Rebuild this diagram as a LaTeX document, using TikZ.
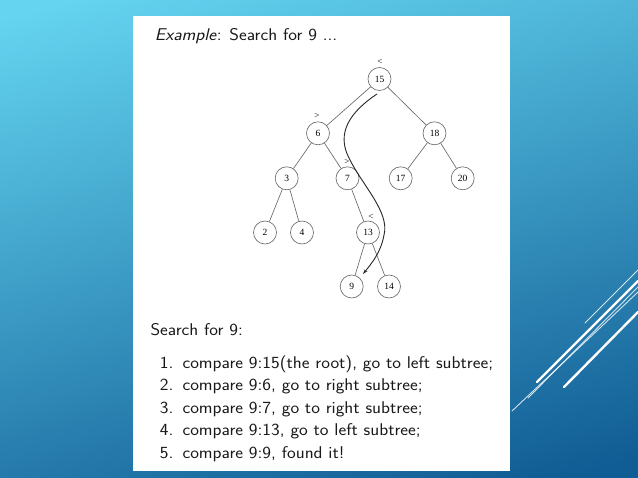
\documentclass[tikz,border=0pt]{standalone}
\usepackage{fontspec}
\newfontfamily\treefont{Liberation Serif}
\usetikzlibrary{arrows.meta}
\definecolor{bgtop}{RGB}{100,212,240}
\definecolor{bgbot}{RGB}{16,92,148}
\definecolor{edgegray}{RGB}{105,105,105}
\newcommand{\wtxt}[1]{\scalebox{1.088}[1]{#1}}
\begin{document}
\begin{tikzpicture}[x=1pt,y=-1pt,
  tn/.style={circle, draw=edgegray, line width=0.65pt, minimum size=23pt, inner sep=0pt,
    font=\treefont\fontsize{9.5}{9.5}\selectfont, fill=white},
  edge/.style={draw=edgegray, line width=0.65pt},
  rel/.style={font=\treefont\fontsize{9}{9}\selectfont, inner sep=0pt, text=black},
  txt/.style={anchor=base west, inner sep=0pt, font=\sffamily\fontsize{17}{20}\selectfont, text=black!90},
  decothick/.style={white, line width=2.4pt, line cap=round},
  decothin/.style={white, opacity=0.8, line width=0.9pt, line cap=round}]
\useasboundingbox (0,0) rectangle (638,478);
\shade[top color=bgtop, bottom color=bgbot, shading angle=15] (-40,-40) rectangle (678,518);
% decorative lines
\draw[decothin] (585,323) -- (638,270);
\draw[decothick] (537,382) -- (638,281);
\draw[decothin] (528,398) -- (638,287);
\draw[decothin] (512,411) -- (638,292);
\draw[decothick] (564,387) -- (638,312);
% white page
\fill[white] (133,16) rectangle (510,471);
% tree
\node[tn] (n15) at (379.5,79) {15};
\node[tn] (n6) at (318,133.3) {6};
\node[tn] (n18) at (434.5,133.3) {18};
\node[tn] (n3) at (286.7,178.3) {3};
\node[tn] (n7) at (347.5,178.3) {7};
\node[tn] (n17) at (400.7,178.3) {17};
\node[tn] (n20) at (462.7,178.3) {20};
\node[tn] (n2) at (265,232.5) {2};
\node[tn] (n4) at (302,232.5) {4};
\node[tn] (n13) at (368,232.5) {13};
\node[tn] (n9) at (351.7,286.5) {9};
\node[tn] (n14) at (389,286.5) {14};
\draw[edge] (n15) -- (n6);
\draw[edge] (n15) -- (n18);
\draw[edge] (n6) -- (n3);
\draw[edge] (n6) -- (n7);
\draw[edge] (n18) -- (n17);
\draw[edge] (n18) -- (n20);
\draw[edge] (n3) -- (n2);
\draw[edge] (n3) -- (n4);
\draw[edge] (n7) -- (n13);
\draw[edge] (n13) -- (n9);
\draw[edge] (n13) -- (n14);
\node[rel] (r15) at (380,62) {<};
\node[rel] (r6) at (317,116) {>};
\node[rel] (r7) at (347,162) {>};
\node[rel] (r13) at (371,216.5) {<};
% search path
\coordinate (ps) at (377,94);
\coordinate (pm1) at (349,158);
\coordinate (pm2) at (384,235);
\coordinate (pe) at (363,274);
\draw[black!85, line width=0.9pt, -{Stealth[length=5pt,width=3.2pt]}]
  (ps) .. controls (350,112) and (336,133) .. (pm1)
       .. controls (362,185) and (390,212) .. (pm2)
       .. controls (381,252) and (372,263) .. (pe);
% text
\node[txt] (ex) at (154.7,41) {\wtxt{\textit{Example}: Search for 9 ...}};
\node[txt] (sf) at (150.3,336) {\wtxt{Search for 9:}};
\node[txt] (i1) at (159.7,368.3) {\wtxt{\makebox[20.8pt][l]{1.}compare 9:15(the root), go to left subtree;}};
\node[txt] (i2) at (159.7,391) {\wtxt{\makebox[20.8pt][l]{2.}compare 9:6, go to right subtree;}};
\node[txt] (i3) at (159.7,413.5) {\wtxt{\makebox[20.8pt][l]{3.}compare 9:7, go to right subtree;}};
\node[txt] (i4) at (159.7,435.8) {\wtxt{\makebox[20.8pt][l]{4.}compare 9:13, go to left subtree;}};
\node[txt] (i5) at (159.7,458.3) {\wtxt{\makebox[20.8pt][l]{5.}compare 9:9, found it!}};
\end{tikzpicture}
\end{document}
